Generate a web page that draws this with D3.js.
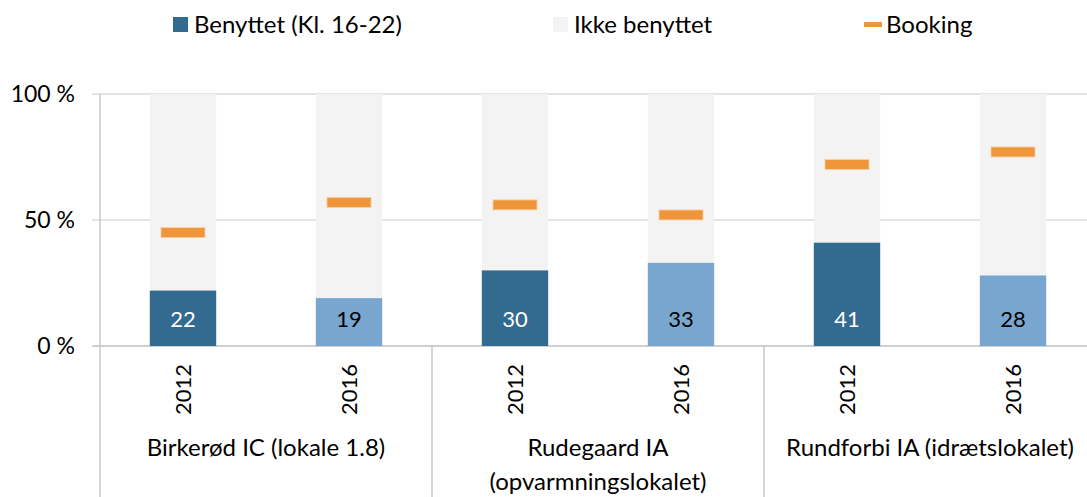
<!DOCTYPE html>
<html>
<head>
<meta charset="utf-8">
<script src="https://cdn.jsdelivr.net/npm/d3@7"></script>
<style>
  body { margin: 0; background: white; }
  svg text { font-family: Lato, "Open Sans", sans-serif; }
</style>
</head>
<body>
<div id="chart"></div>
<script>
// Data
var groups = ["Birkerød IC (lokale 1.8)", "Rudegaard IA|(opvarmningslokalet)", "Rundforbi IA (idrætslokalet)"];
var years = ["2012", "2016", "2012", "2016", "2012", "2016"];
var benyttet = [22, 19, 30, 33, 41, 28];        // used, in %
var ikkeBenyttet = [78, 81, 70, 67, 59, 72];     // not used, in %
var booking = [45, 57, 56, 52, 72, 77];          // booked share, in %
var yTicks = [0, 50, 100];

var w = 1087;
var h = 497;
var plotLeft = 100, plotRight = 1096, plotTop = 94, plotBottom = 346;

var colDark = "#336a8f";
var colLight = "#79a6ce";
var colEmpty = "#f2f3f2";
var colBooking = "#f0963a";
var colGrid = "#c9c9c9";

var svg = d3.select("#chart")
    .append("svg")
    .attr("width", w)
    .attr("height", h);

var xScale = d3.scaleBand()
    .domain(d3.range(years.length))
    .range([plotLeft, plotRight])
    .paddingInner(0.6)
    .paddingOuter(0.3);

var yScale = d3.scaleLinear()
    .domain([0, 100])
    .range([plotBottom, plotTop]);

// gridlines + y ticks
svg.selectAll("line.grid")
    .data(yTicks)
    .enter()
    .append("line")
    .attr("class", "grid")
    .attr("x1", plotLeft - 8)
    .attr("x2", w)
    .attr("y1", function(d) { return yScale(d); })
    .attr("y2", function(d) { return yScale(d); })
    .attr("stroke", function(d) { return d === 0 ? "#bfbfc4" : colGrid; })
    .attr("stroke-width", function(d) { return d === 0 ? 1.5 : 1; });

svg.selectAll("text.ytick")
    .data(yTicks)
    .enter()
    .append("text")
    .attr("class", "ytick")
    .attr("x", 75)
    .attr("y", function(d) { return yScale(d); })
    .attr("dy", "0.36em")
    .attr("text-anchor", "end")
    .style("font-size", "23px")
    .style("fill", "#000")
    .text(function(d) { return d + " %"; });

// y axis line and group separators
var groupStep = (plotRight - plotLeft) / groups.length;
svg.selectAll("line.sep")
    .data(d3.range(groups.length))
    .enter()
    .append("line")
    .attr("class", "sep")
    .attr("x1", function(i) { return plotLeft + groupStep * i; })
    .attr("x2", function(i) { return plotLeft + groupStep * i; })
    .attr("y1", function(i) { return i === 0 ? plotTop : plotBottom; })
    .attr("y2", h)
    .attr("stroke", colGrid)
    .attr("stroke-width", 1.5);

// stacked bars: not used on top, used at base
svg.selectAll("rect.empty")
    .data(ikkeBenyttet)
    .enter()
    .append("rect")
    .attr("class", "empty")
    .attr("x", function(d, i) { return xScale(i); })
    .attr("y", function(d, i) { return yScale(benyttet[i] + d); })
    .attr("width", xScale.bandwidth())
    .attr("height", function(d) { return yScale(0) - yScale(d); })
    .attr("fill", colEmpty);

svg.selectAll("rect.used")
    .data(benyttet)
    .enter()
    .append("rect")
    .attr("class", "used")
    .attr("x", function(d, i) { return xScale(i); })
    .attr("y", function(d) { return yScale(d); })
    .attr("width", xScale.bandwidth())
    .attr("height", function(d) { return yScale(0) - yScale(d); })
    .attr("fill", function(d, i) { return i % 2 === 0 ? colDark : colLight; });

svg.selectAll("text.val")
    .data(benyttet)
    .enter()
    .append("text")
    .attr("class", "val")
    .attr("x", function(d, i) { return xScale(i) + xScale.bandwidth() / 2; })
    .attr("y", yScale(0) - 27)
    .attr("dy", "0.36em")
    .attr("text-anchor", "middle")
    .style("font-size", "22px")
    .style("fill", function(d, i) { return i % 2 === 0 ? "#fff" : "#000"; })
    .text(function(d) { return d; });

// booking markers
var markW = 44, markH = 10;
svg.selectAll("rect.booking")
    .data(booking)
    .enter()
    .append("rect")
    .attr("class", "booking")
    .attr("x", function(d, i) { return xScale(i) + (xScale.bandwidth() - markW) / 2; })
    .attr("y", function(d) { return yScale(d) - markH / 2; })
    .attr("width", markW)
    .attr("height", markH)
    .attr("fill", colBooking)
    .attr("stroke", "#f8cfa4")
    .attr("stroke-width", 0.8);

// year labels, rotated
svg.selectAll("text.year")
    .data(years)
    .enter()
    .append("text")
    .attr("class", "year")
    .attr("text-anchor", "end")
    .attr("dy", "0.36em")
    .style("font-size", "22px")
    .style("fill", "#000")
    .attr("transform", function(d, i) {
        return "translate(" + (xScale(i) + xScale.bandwidth() / 2) + "," + (plotBottom + 18) + ") rotate(-90)";
    })
    .text(function(d) { return d; });

// group labels
svg.selectAll("text.group")
    .data(groups)
    .enter()
    .append("text")
    .attr("class", "group")
    .attr("text-anchor", "middle")
    .attr("x", function(d, i) { return plotLeft + groupStep * (i + 0.5); })
    .attr("y", 456)
    .style("font-size", "24px")
    .style("fill", "#000")
    .each(function(d) {
        var lines = d.split("|");
        var t = d3.select(this);
        var x = t.attr("x");
        lines.forEach(function(l, k) {
            t.append("tspan").attr("x", x).attr("dy", k === 0 ? 0 : 34).text(l);
        });
    });

// legend
var legend = svg.append("g").attr("class", "legend");
var legItems = [
    {label: "Benyttet (Kl. 16-22)", x: 173, kind: "box", color: colDark},
    {label: "Ikke benyttet", x: 553, kind: "box", color: colEmpty},
    {label: "Booking", x: 864, kind: "dash", color: colBooking}
];
legItems.forEach(function(it) {
    if (it.kind === "box") {
        legend.append("rect")
            .attr("x", it.x).attr("y", 17)
            .attr("width", 15).attr("height", 15)
            .attr("fill", it.color);
    } else {
        legend.append("rect")
            .attr("x", it.x).attr("y", 22)
            .attr("width", 18).attr("height", 5)
            .attr("fill", it.color);
    }
    legend.append("text")
        .attr("x", it.x + (it.kind === "box" ? 21 : 22))
        .attr("y", 24)
        .attr("dy", "0.36em")
        .style("font-size", "24px")
        .style("fill", "#000")
        .text(it.label);
});
</script>
</body>
</html>
